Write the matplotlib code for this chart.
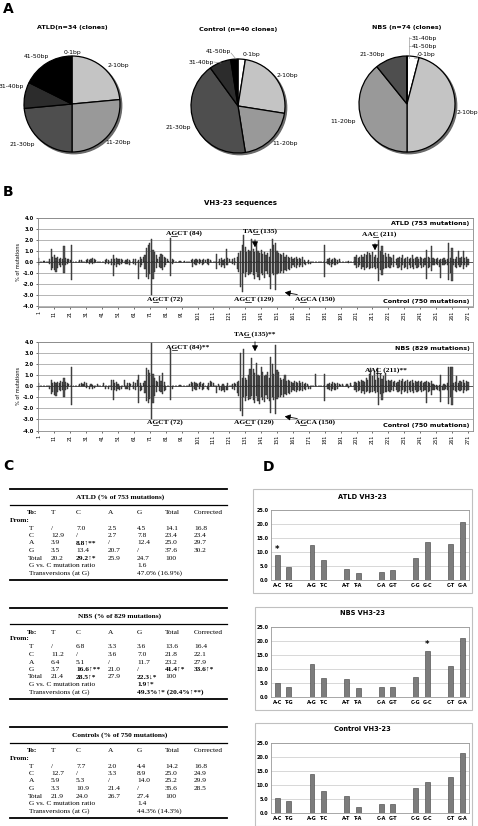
import matplotlib
matplotlib.use('Agg')
import matplotlib.pyplot as plt
from matplotlib.patches import Rectangle, Circle
from matplotlib.lines import Line2D
import numpy as np

# ---------------- DATA ----------------
size_bins = ['0-1bp', '2-10bp', '11-20bp', '21-30bp', '31-40bp', '41-50bp']
atld_clones = [0, 8, 9, 8, 3, 6]
control_clones = [1, 10, 8, 17, 3, 1]
nbs_clones = [3, 34, 29, 8, 0, 0]

seq_positions = list(range(1, 272))
seq_ticks = list(range(1, 272, 10))

atld_seq = [
    0.35, 0, 0, 0.1, 0.1, 0, 0, 0.3, 1.2, 0.5,
    0.6, 0.4, 0.5, 0.3, 0.4, 0.3, 1.45, 0.4, 0.3, 0.3,
    0.2, 1.55, 0, 0, 0, 0, 0.15, 0.2, 0, 0,
    0.2, 0.3, 0.2, 0.3, 0.35, 0.25, 0.2, 0, 0, 0,
    0, 0, 0.2, 0.25, 0.15, 0, 0.3, 0.6, 0.3, 0.4,
    0.3, 0.25, 0.3, 0.2, 0, 0.2, 0.25, 0.2, 0, 0,
    0.3, 0.3, 0, 0.2, 0.5, 0.3, 0.5, 0.6, 1.3, 1.5,
    1.7, 2.1, 1.1, 0.9, 0.6, 0.3, 0.5, 0.7, 0.6, 0.5,
    0.4, 0.3, 0.1, 2.2, 0.3, 0.2, 0, 0, 0, 0.1,
    0, 0, 0.1, 0, 0, 0, 0.15, 0.3, 0.2, 0.25,
    0.2, 0.3, 0.15, 0.2, 0.3, 0.15, 0.25, 0.3, 0.2, 0,
    0, 0, 0.7, 0, 0.3, 0.4, 0.2, 0.3, 1.2, 0.4,
    0.3, 0, 0.3, 0.4, 0, 0.5, 0.8, 1.0, 1.5, 2.4,
    1.4, 0.9, 1.1, 1.0, 2.05, 1.2, 0.9, 1.75, 1.0, 0.8,
    1.1, 0.7, 0.9, 0.6, 0.8, 0.5, 1.2, 2.05, 1.5, 1.7,
    1.0, 0.8, 0.7, 0.6, 0.8, 0.5, 0.6, 0.5, 0.4, 0.5,
    0.3, 0.4, 0.5, 0.3, 0.4, 0.3, 0.5, 0.2, 0, 0,
    0.2, 0, 0, 0, 0, 0, 0, 0, 0, 0,
    1.55, 0, 0.3, 0.4, 0.2, 0.3, 0.4, 0.3, 0.2, 0.25,
    0, 0, 0, 0, 0, 0.1, 0, 0, 0, 0.5,
    0.6, 0.4, 0.5, 0.6, 0.5, 0.7, 0.6, 0.9, 0.8, 0.6,
    0.9, 0.5, 0.6, 0.4, 2.0, 1.0, 1.45, 0.6, 0.8, 0.5,
    0.7, 0.5, 0.4, 0.6, 0, 0.3, 0.4, 0.5, 0.4, 0.6,
    0.3, 0.4, 0.5, 0.3, 0.4, 0.6, 0.3, 0.4, 0.5, 0.3,
    0.5, 0.4, 0.3, 0.4, 1.05, 0.5, 0.4, 1.45, 0.4, 0.3,
    0.3, 0.4, 0.2, 0.3, 0.3, 0.4, 0.2, 0.3, 1.75, 0.4,
    1.3, 0.3, 0.3, 0.5, 1.0, 0.4, 0.5, 1.0, 0.4, 0.5, 0.3,
]

control_seq = [
    0.3, 0, 0, 0, 0, 0, 0, 0.2, 0.7, 0.5,
    0.75, 0.85, 0.5, 0.3, 0.4, 0.3, 1.0, 0.3, 0.2, 0,
    0, 1.65, 0, 0, 0, 0, 0, 0, 0, 0,
    0.1, 0, 0.2, 0, 0.2, 0.1, 0, 0, 0, 0,
    0, 0, 0.2, 0, 0.2, 0, 0.3, 1.25, 0.3, 0.4,
    0.2, 0.3, 0.2, 0, 0, 0.2, 0.2, 0.3, 0, 0,
    0.2, 0.3, 0, 1.5, 0.4, 0.3, 0, 0.6, 1.3, 1.5,
    1.1, 3.0, 1.5, 0.9, 0.5, 0, 0.4, 0.5, 0.7, 0.4,
    0.3, 0, 0, 1.25, 0.2, 0, 0, 0, 0, 0,
    0, 0, 0, 0, 0, 0, 0, 0.4, 0.2, 0.3,
    0, 0.2, 0, 0.3, 0.2, 0, 0.2, 0.3, 0, 0,
    0, 0, 0.6, 0, 0.3, 0.4, 0.3, 0.5, 0.3, 0.3,
    0, 0, 0.2, 0.3, 0, 0.6, 0.9, 2.2, 2.65, 1.0,
    1.3, 0.9, 1.2, 1.1, 0.9, 1.2, 1.5, 0.9, 1.3, 1.6,
    1.0, 1.2, 1.4, 0.8, 1.1, 1.3, 2.4, 1.0, 1.2, 2.5,
    1.1, 1.0, 1.0, 0.8, 1.0, 0.7, 0.8, 0.6, 0.7, 0.5,
    0.3, 0.4, 0.5, 0.3, 0.4, 0.3, 0.4, 0.2, 0.3, 0,
    0.2, 0.2, 0, 0, 0, 0, 0, 0, 0, 0,
    1.3, 0, 0.2, 0.3, 0.4, 0.2, 0.3, 0.3, 0.2, 0,
    0, 0, 0, 0, 0, 0.1, 0, 0, 0, 0.3,
    0.5, 0.4, 0.3, 0.6, 0.4, 0.7, 0.5, 0.4, 0.6, 0.5,
    0.5, 0.4, 0.6, 0.5, 1.7, 0.7, 1.2, 0.6, 0.5, 0.5,
    0.4, 0.5, 0.3, 0.4, 0, 0.3, 0.5, 0.4, 0.7, 0.3,
    0.5, 0.4, 0.6, 0.3, 0.5, 0.4, 0.6, 0.3, 0.5, 0.4,
    0.3, 0.5, 0.4, 0.3, 1.5, 0.5, 0.4, 0.8, 0.3, 0.3,
    0.2, 0.3, 0.4, 1.4, 0.3, 0.3, 0.2, 0.3, 1.6, 1.0,
    1.7, 0.3, 0.4, 0.5, 0.3, 0.4, 0.3, 0.6, 0.3, 0.4, 0.3,
]

nbs_seq = [
    0.3, 0, 0, 0, 0, 0, 0, 0, 0.55, 0.3,
    0.4, 0.3, 0.4, 0.3, 0.5, 0.4, 0.75, 0.4, 0.3, 0.2,
    0, 1.8, 0, 0, 0, 0, 0.2, 0.3, 0.2, 0.4,
    0.3, 0, 0, 0.2, 0.15, 0, 0, 0.2, 0, 0,
    0, 0.3, 0, 0, 0, 0, 0.6, 0.6, 0.3, 0.4,
    0.2, 0, 0, 0, 0.6, 0, 0.3, 0.3, 0.2, 0,
    0.4, 0.3, 0.6, 1.0, 0.3, 0, 0.3, 0.5, 1.7, 1.5,
    1.2, 4.3, 1.1, 0.8, 0.5, 0.4, 0.9, 0.5, 1.2, 0.4,
    0, 0, 0, 3.35, 0, 0, 0, 0, 0, 0.1,
    0, 0, 0, 0, 0, 0.2, 0.4, 0.3, 0.4, 0.3,
    0.2, 0.3, 0.4, 0.2, 0.3, 0, 0, 0.3, 0.5, 0.4,
    0.3, 0, 0, 0.2, 0, 0, 0.2, 0, 0, 0.3,
    0, 0, 0.2, 0.3, 0.2, 0.4, 0.5, 3.0, 0.8, 3.35,
    0.8, 0.6, 1.05, 1.6, 2.55, 1.6, 1.2, 2.15, 1.0, 0.9,
    1.8, 1.3, 0.9, 1.0, 1.3, 0.8, 2.65, 2.0, 1.1, 3.75,
    1.5, 1.3, 0.8, 0.6, 0.7, 1.0, 0.5, 0.6, 0.5, 0.4,
    0.3, 0.5, 0.4, 0.3, 0.5, 0.3, 0.4, 0.2, 0.3, 0.2,
    0, 0, 0, 0, 1.1, 0, 0, 0, 0, 0,
    1.1, 0, 0.2, 0.3, 0.2, 0.4, 0.3, 0.2, 0.3, 0.2,
    0.1, 0.2, 0, 0, 0.2, 0, 0.3, 0, 0, 0.4,
    0.3, 0.5, 0.4, 0.6, 0.5, 0.4, 0.8, 0.6, 1.1, 1.65,
    0.9, 1.35, 0.6, 1.65, 0.8, 1.1, 0.7, 0.9, 1.2, 0.5,
    0.6, 0.5, 0.6, 0.4, 0.5, 0.3, 0.4, 0.6, 0.5, 0.7,
    0.4, 0.5, 0.6, 0.4, 0.5, 0.6, 0.3, 0.5, 0.4, 0.5,
    0.4, 0.5, 0.3, 0.4, 0.5, 0.4, 0.3, 0.5, 0.2, 0.1,
    0.1, 0, 0.1, 1.0, 0, 0.2, 0.1, 0.3, 1.8, 1.8,
    1.8, 0.3, 0.4, 0.9, 0.3, 0.5, 0.4, 0.6, 0.3, 0.5, 0.4,
]

mut_types = ['A-C', 'T-G', 'A-G', 'T-C', 'A-T', 'T-A', 'C-A', 'G-T', 'C-G', 'G-C', 'C-T', 'G-A']
atld_mut = [8.8, 4.5, 12.4, 7.0, 3.9, 2.5, 2.7, 3.5, 7.8, 13.4, 12.9, 20.7]
nbs_mut = [5.1, 3.6, 11.7, 6.8, 6.4, 3.3, 3.6, 3.7, 7.0, 16.6, 11.2, 21.0]
control_mut = [5.3, 4.4, 14.0, 7.7, 5.9, 2.0, 3.3, 3.3, 8.9, 10.9, 12.7, 21.4]

table_cols = ['T', 'C', 'A', 'G', 'Total', 'Corrected']
table_rows = ['T', 'C', 'A', 'G']
atld_cells = [['/', '7.0', '2.5', '4.5', '14.1', '16.8'],
              ['12.9', '/', '2.7', '7.8', '23.4', '23.4'],
              ['3.9', '8.8\u2191**', '/', '12.4', '25.0', '29.7'],
              ['3.5', '13.4', '20.7', '/', '37.6', '30.2']]
atld_totals = ['20.2', '29.2\u2191*', '25.9', '24.7', '100']
atld_ratio = '1.6'
atld_transv = '47.0% (16.9%)'
atld_bold = {(2, 1), (4, 1)}

nbs_cells = [['/', '6.8', '3.3', '3.6', '13.6', '16.4'],
             ['11.2', '/', '3.6', '7.0', '21.8', '22.1'],
             ['6.4', '5.1', '/', '11.7', '23.2', '27.9'],
             ['3.7', '16.6\u2191**', '21.0', '/', '41.4\u2191*', '33.6\u2191*']]
nbs_totals = ['21.4', '28.5\u2191*', '27.9', '22.3\u2193*', '100']
nbs_ratio = '1.9\u2191*'
nbs_transv = '49.3%\u2191* (20.4%\u2191**)'
nbs_bold = {(3, 1), (3, 4), (3, 5), (4, 1), (4, 3), (5, 0), (6, 0)}

ctrl_cells = [['/', '7.7', '2.0', '4.4', '14.2', '16.8'],
              ['12.7', '/', '3.3', '8.9', '25.0', '24.9'],
              ['5.9', '5.3', '/', '14.0', '25.2', '29.9'],
              ['3.3', '10.9', '21.4', '/', '35.6', '28.5']]
ctrl_totals = ['21.9', '24.0', '26.7', '27.4', '100']
ctrl_ratio = '1.4'
ctrl_transv = '44.3% (14.3%)'
ctrl_bold = set()

assert len(atld_seq) == 271 and len(control_seq) == 271 and len(nbs_seq) == 271

# ---------------- FIGURE ----------------
W, H = 478, 826
fig = plt.figure(figsize=(W / 100, H / 100), dpi=100)
fig.patch.set_facecolor('white')
SERIF = ['Liberation Serif', 'DejaVu Serif']
SANS = ['DejaVu Sans']


def ax_px(x0, y0, x1, y1):
    return fig.add_axes([x0 / W, 1 - y1 / H, (x1 - x0) / W, (y1 - y0) / H])


def ftext(x, y, s, **kw):
    return fig.text(x / W, 1 - y / H, s, **kw)


def fline(xs, ys, lw=0.8, color='black'):
    fig.add_artist(Line2D([x / W for x in xs], [1 - y / H for y in ys], lw=lw, color=color))


# panel letters
for letter, (lx, ly) in {'A': (3, 9), 'B': (3, 192), 'C': (3, 466), 'D': (263, 467)}.items():
    ftext(lx, ly, letter, fontsize=10, weight='bold', va='center', family=SANS)

# ---------------- PANEL A : pies ----------------
pie_colors = ['#ffffff', '#c4c4c4', '#999999', '#4e4e4e', '#2c2c2c', '#000000']
pie_specs = [
    (72, 104, 48, atld_clones, 'ATLD(n=34 (clones)', 28,
     {'0-1bp': (0, 1.08, 'center'), '2-10bp': (0.96, 0.8, 'center'), '11-20bp': (0.96, -0.8, 'center'),
      '21-30bp': (-1.04, -0.84, 'center'), '31-40bp': (-1.26, 0.37, 'center'), '41-50bp': (-0.75, 0.98, 'center')}),
    (238, 106, 47, control_clones, 'Control (n=40 clones)', 29,
     {'0-1bp': (0.1, 1.1, 'left'), '2-10bp': (1.06, 0.64, 'center'), '11-20bp': (1.0, -0.8, 'center'),
      '21-30bp': (-1.27, -0.45, 'center'), '31-40bp': (-0.52, 0.93, 'right'), '41-50bp': (-0.15, 1.15, 'right')}),
    (407, 104, 48, nbs_clones, 'NBS (n=74 (clones)', 28,
     {'0-1bp': (0.22, 1.04, 'left'), '2-10bp': (1.04, -0.18, 'left'), '11-20bp': (-1.33, -0.36, 'center'),
      '21-30bp': (-0.72, 1.04, 'center'), '31-40bp': (0.1, 1.37, 'left'), '41-50bp': (0.1, 1.2, 'left')}),
]
for cx, cy, r, vals, title, ty, labpos in pie_specs:
    pad = 12
    ax = ax_px(cx - r - pad, cy - r - pad, cx + r + pad, cy + r + pad)
    ax.add_patch(Circle((0.035, -0.035), 1.0, color='#6a6a6a', zorder=0))
    ax.pie(vals, colors=pie_colors, startangle=90, counterclock=False, radius=1,
           wedgeprops=dict(edgecolor='black', linewidth=0.9))
    lim = (r + pad) / r
    ax.set_xlim(-lim, lim)
    ax.set_ylim(-lim, lim)
    ax.set_aspect('auto')
    ax.axis('off')
    for lab in size_bins:
        dx, dy, ha = labpos[lab]
        ax.text(dx, dy, lab, ha=ha, va='center', fontsize=4.4, family=SANS, clip_on=False)
    ftext(cx, ty, title, ha='center', va='center', fontsize=4.6, weight='bold', family=SANS)

# leader lines for small slices
fline([231, 236], [53, 59], lw=0.4, color='#888888')
fline([214, 221], [62, 63], lw=0.4, color='#888888')
fline([409, 409], [37, 58], lw=0.4, color='#888888')
fline([409, 411], [38, 38], lw=0.4, color='#888888')
fline([409, 411], [46, 46], lw=0.4, color='#888888')
fline([414, 417, 417], [58, 58, 54], lw=0.4, color='#888888')

# ---------------- PANEL B : sequence profiles ----------------
ftext(240, 203, 'VH3-23 sequences', ha='center', va='center', fontsize=5, weight='bold', family=SANS)
pos = np.array(seq_positions)
underlines = []


def seq_axes(y_top, y_bot, top_vals, top_label):
    ax = ax_px(37.7, y_top, 472.7, y_bot)
    ax.set_xlim(0.5, 274)
    ax.set_ylim(-4, 4)
    ax.set_yticks(np.arange(-4, 5, 1))
    ax.set_yticklabels([f'{v:.1f}' for v in np.arange(-4, 5, 1)], fontsize=3.7, weight='bold', family=SANS)
    ax.set_xticks(seq_ticks)
    ax.set_xticklabels([str(t) for t in seq_ticks], rotation=90, fontsize=3.5, family=SANS)
    ax.tick_params(axis='both', length=1.5, width=0.4, pad=1.5)
    ax.yaxis.grid(True, color='#a8a8a8', lw=0.6)
    ax.set_axisbelow(True)
    for s in ax.spines.values():
        s.set_color('#888888')
        s.set_linewidth(0.6)
    ax.bar(pos, top_vals, width=0.72, color='#555555', edgecolor='#222222', linewidth=0.3, zorder=2)
    ax.bar(pos, -np.array(control_seq), width=0.72, color='#555555', edgecolor='#222222', linewidth=0.3, zorder=2)
    ax.axhline(0, color='#333333', lw=0.5, zorder=3)
    ax.set_ylabel('% of mutations', fontsize=3.6, family=SANS, labelpad=1)
    ax.text(0.993, 0.935, top_label, transform=ax.transAxes, ha='right', va='center',
            fontsize=4.6, weight='bold', family=SANS)
    ax.text(0.993, 0.06, 'Control (750 mutations)', transform=ax.transAxes, ha='right', va='center',
            fontsize=4.6, weight='bold', family=SANS)
    return ax


def ul_text(x, y, s, idx):
    t = ftext(x, y, s, ha='center', va='baseline', fontsize=5.4, weight='bold', family=SERIF)
    underlines.append((t, s, idx))


def arrow(x0, y0, x1, y1):
    fig.add_artist(matplotlib.patches.FancyArrowPatch(
        (x0 / W, 1 - y0 / H), (x1 / W, 1 - y1 / H), transform=fig.transFigure,
        arrowstyle='-|>,head_length=2.2,head_width=1.2', lw=0.6, color='black', mutation_scale=1.5))


# B1 : ATLD vs control
seq_axes(217.7, 306.5, atld_seq, 'ATLD (753 mutations)')
ul_text(184, 235, 'AGCT (84)', 1)
ul_text(260, 233, 'TAG (135)', 2)
ul_text(379, 236, 'AAC (211)', 2)
arrow(255, 237, 255, 250)
arrow(375, 241, 375, 253)
ul_text(165, 301, 'AGCT (72)', 1)
ul_text(254, 301, 'AGCT (129)', 2)
ul_text(315, 301, 'AGCA (150)', 1)
arrow(300, 295, 282, 292)

# B2 : NBS vs control
seq_axes(342.3, 430.5, nbs_seq, 'NBS (829 mutations)')
ul_text(188, 349, 'AGCT (84)**', 1)
ul_text(255, 336, 'TAG (135)**', 2)
ul_text(386, 372, 'AAC (211)**', 2)
arrow(255, 339, 255, 354)
ul_text(165, 424, 'AGCT (72)', 1)
ul_text(254, 424, 'AGCT (129)', 2)
ul_text(315, 424, 'AGCA (150)', 1)
arrow(300, 419, 282, 416)

# ---------------- PANEL C : tables ----------------
col_x = [51, 76, 108, 137, 165, 194]
TFS = 5.3


def draw_table(top, title, cells, totals, ratio, transv, bold):
    off = {'title': 8.5, 'line2': 16, 'header': 24, 'from': 31, 'rows': [39, 46.5, 54, 61.5],
           'total': 69, 'ratio': 76.5, 'transv': 84, 'bottom': 91}
    fline([10, 227], [top, top], lw=1.3)
    fline([10, 227], [top + off['line2'], top + off['line2']], lw=0.9)
    fline([10, 227], [top + off['bottom'], top + off['bottom']], lw=1.3)
    kw = dict(fontsize=TFS, family=SERIF, va='center')
    ftext(120, top + off['title'], title, ha='center', weight='bold', **kw)
    ftext(27, top + off['header'], 'To:', ha='left', weight='bold', **kw)
    for x, c in zip(col_x, table_cols):
        ftext(x, top + off['header'], c, ha='left', **kw)
    ftext(10, top + off['from'], 'From:', ha='left', weight='bold', **kw)
    for i, (rl, row) in enumerate(zip(table_rows, cells)):
        y = top + off['rows'][i]
        ftext(29, y, rl, ha='left', **kw)
        for j, (x, v) in enumerate(zip(col_x, row)):
            ftext(x, y, v, ha='left', weight='bold' if (i, j) in bold else 'normal', **kw)
    y = top + off['total']
    ftext(28, y, 'Total', ha='left', **kw)
    for j, (x, v) in enumerate(zip(col_x, totals)):
        ftext(x, y, v, ha='left', weight='bold' if (4, j) in bold else 'normal', **kw)
    ftext(29, top + off['ratio'], 'G vs. C mutation ratio', ha='left', **kw)
    ftext(137, top + off['ratio'], ratio, ha='left', weight='bold' if (5, 0) in bold else 'normal', **kw)
    ftext(29, top + off['transv'], 'Transversions (at G)', ha='left', **kw)
    ftext(137, top + off['transv'], transv, ha='left', weight='bold' if (6, 0) in bold else 'normal', **kw)


draw_table(489, 'ATLD (% of 753 mutations)', atld_cells, atld_totals, atld_ratio, atld_transv, atld_bold)
draw_table(608, 'NBS (% of 829 mutations)', nbs_cells, nbs_totals, nbs_ratio, nbs_transv, nbs_bold)
draw_table(727, 'Controls (% of 750 mutations)', ctrl_cells, ctrl_totals, ctrl_ratio, ctrl_transv, ctrl_bold)

# ---------------- PANEL D : mutation-type bars ----------------
bar_x = [i + i // 2 for i in range(len(mut_types))]
d_specs = [
    (253, 489, 593, 497, 510, 580, atld_mut, 'ATLD VH3-23', 0),
    (255, 607, 710, 613, 627, 697, nbs_mut, 'NBS VH3-23', 9),
    (255, 723, 826, 729, 743, 813, control_mut, 'Control VH3-23', None),
]
for bx0, by0, by1, ty, py0, py1, vals, title, star in d_specs:
    fig.add_artist(Rectangle((bx0 / W, 1 - by1 / H), (472 - bx0) / W, (by1 - by0) / H,
                             transform=fig.transFigure, fill=False, edgecolor='#c0c0c0', lw=0.8))
    ftext(362, ty, title, ha='center', va='center', fontsize=4.8, weight='bold', family=SANS)
    ax = ax_px(271, py0, 468.5, py1)
    ax.bar(bar_x, vals, width=0.43, color='#7c7c7c', edgecolor='#3c3c3c', linewidth=0.4, zorder=2)
    ax.set_xlim(-0.55, 16.55)
    ax.set_ylim(0, 25)
    ax.set_yticks(np.arange(0, 26, 5))
    ax.set_yticklabels([f'{v:.1f}' for v in np.arange(0, 26, 5)], fontsize=3.5, weight='bold', family=SANS)
    ax.set_xticks(bar_x)
    ax.set_xticklabels(mut_types, fontsize=3.5, weight='bold', family=SANS)
    ax.tick_params(axis='both', length=0, pad=2)
    ax.yaxis.grid(True, color='#c8c8c8', lw=0.5)
    ax.set_axisbelow(True)
    for s in ax.spines.values():
        s.set_color('#999999')
        s.set_linewidth(0.6)
    if star is not None:
        ax.text(bar_x[star], vals[star] + 0.4, '*', ha='center', va='bottom', fontsize=6, weight='bold')

# underline characters in the motif annotations
fig.canvas.draw()
renderer = fig.canvas.get_renderer()
for t, s, idx in underlines:
    bb = t.get_window_extent(renderer)
    props = dict(fontsize=5.4, weight='bold', family=SERIF)
    t1 = fig.text(0, 0, s[:idx], **props)
    t2 = fig.text(0, 0, s[:idx + 1], **props)
    w1 = t1.get_window_extent(renderer).width if idx > 0 else 0
    w2 = t2.get_window_extent(renderer).width
    t1.remove()
    t2.remove()
    xb, yb = t.get_position()
    ybase = yb * H - 1.3
    fig.add_artist(Line2D([(bb.x0 + w1) / W, (bb.x0 + w2) / W], [ybase / H, ybase / H],
                          lw=0.5, color='black', transform=fig.transFigure))

fig.savefig('out.png', dpi=100, facecolor='white')
